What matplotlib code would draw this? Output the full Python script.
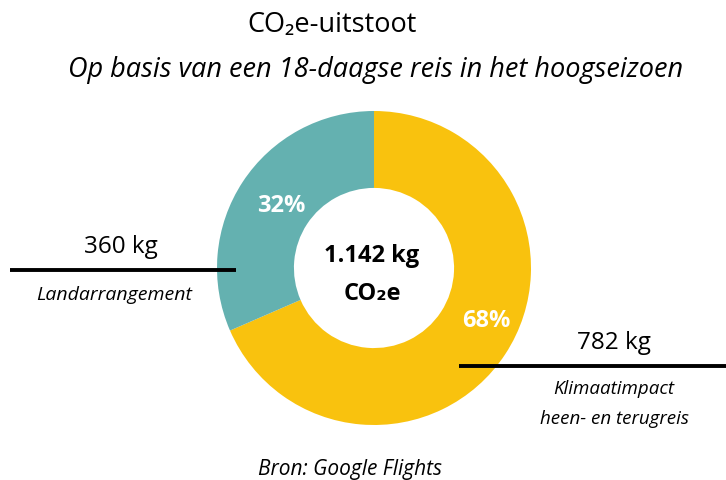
import matplotlib
matplotlib.use("Agg")
from matplotlib import pyplot as plt

plt.rcParams['font.family'] = ['Open Sans', 'DejaVu Sans']

# data
labels = ["Klimaatimpact\nheen- en terugreis", "Landarrangement"]
values_kg = [782, 360]
colors = ["#F9C20E", "#64B1B0"]
total_kg = "1.142 kg"

shares = [v / sum(values_kg) for v in values_kg]

fig = plt.figure(figsize=(7.26, 4.8), dpi=100)
ax = fig.add_axes([0, 0, 1, 1])

cx, cy, r = 374, 212, 157
wedges, _ = ax.pie(values_kg, colors=colors, startangle=90, counterclock=False,
                   center=(cx, cy), radius=r, wedgeprops=dict(width=r * 0.49),
                   frame=True)
ax.set_xlim(0, 726)
ax.set_ylim(0, 480)
ax.set_aspect("equal")
ax.axis("off")

# percentages
ax.text(486, 159, f"{shares[0]*100:.0f}%", color="white", fontsize=17,
        fontweight="bold", ha="center", va="center")
ax.text(281, 274, f"{shares[1]*100:.0f}%", color="white", fontsize=17,
        fontweight="bold", ha="center", va="center")

# center
ax.text(cx - 2, 224, total_kg, fontsize=17, fontweight="bold", ha="center", va="center")
ax.text(cx - 2, 186, "CO₂e", fontsize=17, fontweight="bold", ha="center", va="center")

# titles
ax.text(332, 455, "CO₂e-uitstoot", fontsize=19.5, ha="center", va="center")
ax.text(376, 410, "Op basis van een 18-daagse reis in het hoogseizoen",
        fontsize=19.5, style="italic", ha="center", va="center")

# left annotation
ax.plot([10, 236], [210, 210], color="black", lw=2.8, solid_capstyle="butt")
ax.text(121, 233, f"{values_kg[1]} kg", fontsize=17.5, ha="center", va="center")
ax.text(114, 185, labels[1], fontsize=14, style="italic", ha="center", va="center")

# right annotation
ax.plot([459, 726], [114, 114], color="black", lw=2.8, solid_capstyle="butt")
ax.text(614, 137, f"{values_kg[0]} kg", fontsize=17.5, ha="center", va="center")
line1, line2 = labels[0].split("\n")
ax.text(614, 91, line1, fontsize=13.5, style="italic", ha="center", va="center")
ax.text(614, 61, line2, fontsize=13.5, style="italic", ha="center", va="center")

# source
ax.text(350, 11, "Bron: Google Flights", fontsize=15, style="italic",
        ha="center", va="center")

plt.savefig("out.png", dpi=100)
